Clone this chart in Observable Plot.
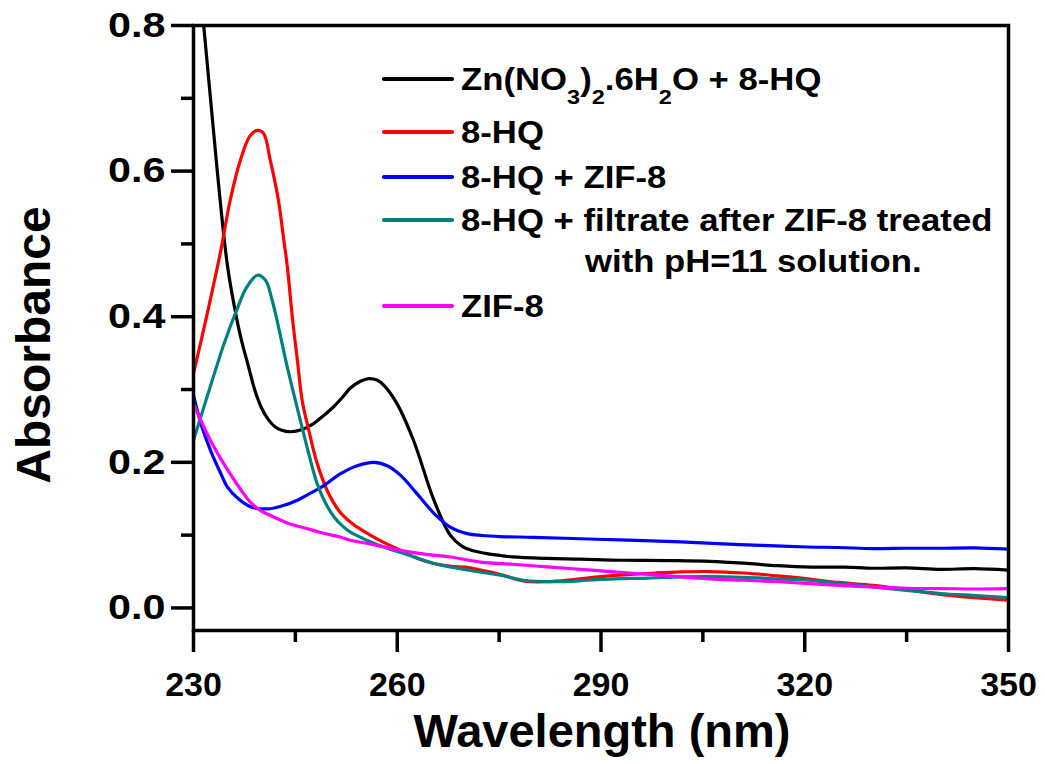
<!DOCTYPE html>
<html>
<head>
<meta charset="utf-8">
<script src="https://cdn.jsdelivr.net/npm/d3@7"></script>
<script src="https://cdn.jsdelivr.net/npm/@observablehq/plot@0.6"></script>
<style>
  body { margin: 0; background: #fff; }
  #chart svg { display: block; }
</style>
</head>
<body>
<div id="chart"></div>
<script>
// UV-Vis absorption spectra (wavelength in nm, absorbance)
const znWl  = [230, 231.5, 233.5, 235, 236.2, 237, 238, 239, 240, 241, 242, 243, 244.3, 246, 247.5, 249, 250.6, 252, 253.1, 254.5, 255.8, 257, 258, 260, 262.4, 265.4, 267.8, 269.5, 271.2, 273, 275.2, 277, 282, 287, 293, 300, 306, 311, 316, 321, 326, 330, 335, 340, 345, 350];
const znAbs = [0.93, 0.80, 0.60, 0.47, 0.405, 0.37, 0.335, 0.30, 0.275, 0.259, 0.249, 0.244, 0.242, 0.245, 0.252, 0.263, 0.276, 0.29, 0.302, 0.311, 0.315, 0.313, 0.306, 0.28, 0.23, 0.148, 0.10, 0.085, 0.0785, 0.075, 0.072, 0.070, 0.068, 0.067, 0.0655, 0.065, 0.064, 0.0615, 0.058, 0.056, 0.056, 0.0545, 0.055, 0.053, 0.054, 0.052];

const hqWl  = [230, 231.8, 234, 235.4, 236.9, 238.3, 239.4, 240.3, 241.3, 242.5, 243.3, 243.8, 244.6, 245.3, 246, 247, 248, 249, 250, 251, 252, 253.5, 255.6, 258, 260.5, 263, 265.4, 268, 270, 272.3, 275.2, 278.6, 282, 286, 290, 294.4, 298, 301.7, 306, 311, 316, 320.4, 325, 330, 335, 340, 345, 350];
const hqAbs = [0.322, 0.395, 0.49, 0.56, 0.615, 0.648, 0.656, 0.652, 0.615, 0.56, 0.505, 0.47, 0.395, 0.34, 0.285, 0.243, 0.205, 0.177, 0.155, 0.139, 0.127, 0.115, 0.1025, 0.09, 0.079, 0.068, 0.061, 0.057, 0.056, 0.052, 0.046, 0.037, 0.036, 0.039, 0.043, 0.046, 0.048, 0.0495, 0.050, 0.048, 0.044, 0.040, 0.035, 0.031, 0.025, 0.0185, 0.014, 0.0106];

const hqZifWl  = [230, 231.2, 232.5, 234, 235, 236.6, 238.4, 240.9, 243, 245.3, 247.3, 249.2, 251.6, 254, 256.6, 258.6, 260.5, 262.9, 265.4, 267.8, 270.3, 272.5, 275.2, 280, 287, 294, 301.7, 308, 313.5, 320.4, 325, 330.1, 335, 340, 345, 350];
const hqZifAbs = [0.292, 0.25, 0.2165, 0.185, 0.166, 0.15, 0.139, 0.136, 0.14, 0.148, 0.158, 0.168, 0.184, 0.195, 0.200, 0.195, 0.182, 0.157, 0.13, 0.111, 0.102, 0.0995, 0.098, 0.097, 0.095, 0.093, 0.0906, 0.088, 0.086, 0.0837, 0.083, 0.0815, 0.082, 0.082, 0.0825, 0.0806];

const filtWl  = [230, 232, 234.5, 236.4, 237.8, 239.4, 240.6, 241.6, 242.3, 243.8, 245, 246.2, 247.3, 248.2, 249.5, 250.7, 252, 253.1, 255.5, 258, 261.5, 265.4, 268, 272.3, 275.2, 278.6, 283.6, 288, 291.9, 297, 301.7, 306, 311, 316, 320.4, 325, 330, 335, 340, 345, 350];
const filtAbs = [0.23, 0.29, 0.363, 0.41, 0.44, 0.457, 0.45, 0.422, 0.395, 0.331, 0.285, 0.24, 0.2, 0.171, 0.143, 0.125, 0.112, 0.104, 0.093, 0.0837, 0.073, 0.061, 0.056, 0.049, 0.045, 0.038, 0.036, 0.038, 0.040, 0.041, 0.0426, 0.043, 0.042, 0.040, 0.038, 0.034, 0.029, 0.024, 0.0198, 0.017, 0.0143];

const zifWl  = [230, 231.2, 232.5, 234, 235.4, 237, 238.4, 240, 241.8, 244, 246.7, 249, 251.6, 253.1, 256.5, 260.5, 264, 267.8, 272.3, 277, 282.1, 287, 291.9, 297, 301.7, 306, 311, 316, 320.4, 325, 330.1, 335, 340, 345, 350];
const zifAbs = [0.281, 0.255, 0.23, 0.205, 0.184, 0.162, 0.145, 0.133, 0.125, 0.116, 0.109, 0.103, 0.0975, 0.093, 0.087, 0.079, 0.074, 0.070, 0.063, 0.060, 0.0563, 0.053, 0.0494, 0.046, 0.0426, 0.040, 0.038, 0.036, 0.0335, 0.031, 0.0288, 0.027, 0.0266, 0.026, 0.0266];

const seriesNames  = ["Zn(NO3)2.6H2O + 8-HQ", "8-HQ", "8-HQ + ZIF-8", "8-HQ + filtrate after ZIF-8 treated with pH=11 solution.", "ZIF-8"];
const seriesColors = ["#000000", "#ff0000", "#0000ff", "#008080", "#ff00ff"];
const seriesWl  = [znWl, hqWl, hqZifWl, filtWl, zifWl];
const seriesAbs = [znAbs, hqAbs, hqZifAbs, filtAbs, zifAbs];

const xMajor = [230, 260, 290, 320, 350];
const xMinor = [245, 275, 305, 335];
const yMajor = [0.0, 0.2, 0.4, 0.6, 0.8];
const yMinor = [0.1, 0.3, 0.5, 0.7];

const xTitle = "Wavelength (nm)";
const yTitle = "Absorbance";

// Legend text pieces: [text, isSubscript]
const formulaParts = [["Zn(NO", false], ["3", true], [")", false], ["2", true], [".6H", false], ["2", true], ["O + 8-HQ", false]];
const filtrateLines = ["8-HQ + filtrate after ZIF-8 treated", "with pH=11 solution."];

const FONT = "'Liberation Sans', Arial, Helvetica, sans-serif";

const lineMarks = seriesNames.map((name, i) => {
  const rows = seriesWl[i].map((w, j) => ({wl: w, abs: seriesAbs[i][j]}));
  return Plot.line(rows, {
    x: "wl", y: "abs", stroke: seriesColors[i], strokeWidth: 3.2,
    curve: "catmull-rom", clip: true, strokeLinejoin: "round"
  });
});

const plot = Plot.plot({
  width: 1045,
  height: 764,
  marginLeft: 193,
  marginRight: 37,
  marginTop: 25,
  marginBottom: 134,
  style: {fontFamily: FONT, fontWeight: "bold", background: "#fff", color: "#000"},
  x: {domain: [230, 350]},
  y: {domain: [-0.031, 0.8]},
  marks: [
    ...lineMarks,
    Plot.frame({stroke: "#000", strokeWidth: 3.5}),
    Plot.axisX({ticks: xMajor, tickSize: 22, tickPadding: 19, strokeWidth: 3.5, fontSize: 34, fontWeight: "bold", label: null, tickFormat: d => String(d)}),
    Plot.axisX({ticks: xMinor, tickSize: 12, strokeWidth: 3.5, label: null, tickFormat: () => ""}),
    Plot.axisY({ticks: yMajor, tickSize: 22, tickPadding: 6, strokeWidth: 3.5, fontSize: 35, fontWeight: "bold", label: null, tickFormat: d3.format(".1f")}),
    Plot.axisY({ticks: yMinor, tickSize: 12, strokeWidth: 3.5, label: null, tickFormat: () => ""})
  ]
});

const svg = d3.select(plot);

// Slightly wider y tick labels, kept right-aligned against the ticks
svg.selectAll('g[aria-label="y-axis tick label"] text').each(function () {
  const el = d3.select(this);
  const tr = el.attr("transform");
  if (tr) el.attr("transform", tr + " scale(1.18,1)");
});

// Axis titles
svg.append("text")
  .attr("x", 602).attr("y", 747)
  .attr("text-anchor", "middle")
  .attr("font-family", FONT).attr("font-weight", "bold").attr("font-size", 47)
  .attr("fill", "#000")
  .text(xTitle);
svg.append("text")
  .attr("transform", "translate(50,345) rotate(-90)")
  .attr("text-anchor", "middle")
  .attr("font-family", FONT).attr("font-weight", "bold").attr("font-size", 48)
  .attr("fill", "#000")
  .text(yTitle);

// Legend drawn inside the plotting area
const legend = svg.append("g")
  .attr("font-family", FONT)
  .attr("font-weight", "bold")
  .attr("font-size", 31)
  .attr("text-anchor", "start")
  .attr("fill", "#000");
const rowY = [79, 132, 177, 220, 306];
const lineX0 = 384, lineX1 = 452, textX = 461, wrapX = 585;
const stretch = "scale(1.12,1)";

function legendText(x, y) {
  return legend.append("text").attr("transform", `translate(${x},${y}) ${stretch}`);
}

seriesNames.forEach((name, i) => {
  legend.append("line")
    .attr("x1", lineX0).attr("x2", lineX1)
    .attr("y1", rowY[i]).attr("y2", rowY[i])
    .attr("stroke", seriesColors[i])
    .attr("stroke-width", 4.2)
    .attr("stroke-linecap", "round");
  const t = legendText(textX, rowY[i] + 11);
  if (i === 0) {
    let shifted = false;
    formulaParts.forEach(([s, sub]) => {
      const span = t.append("tspan").text(s);
      if (sub && !shifted) { span.attr("dy", 14).attr("font-size", 21); shifted = true; }
      else if (sub) { span.attr("font-size", 21); }
      else if (shifted) { span.attr("dy", -14); shifted = false; }
    });
  } else if (i === 3) {
    t.text(filtrateLines[0]);
    legendText(wrapX, rowY[i] + 52).text(filtrateLines[1]);
  } else {
    t.text(name);
  }
});

document.getElementById("chart").appendChild(plot);
</script>
</body>
</html>
